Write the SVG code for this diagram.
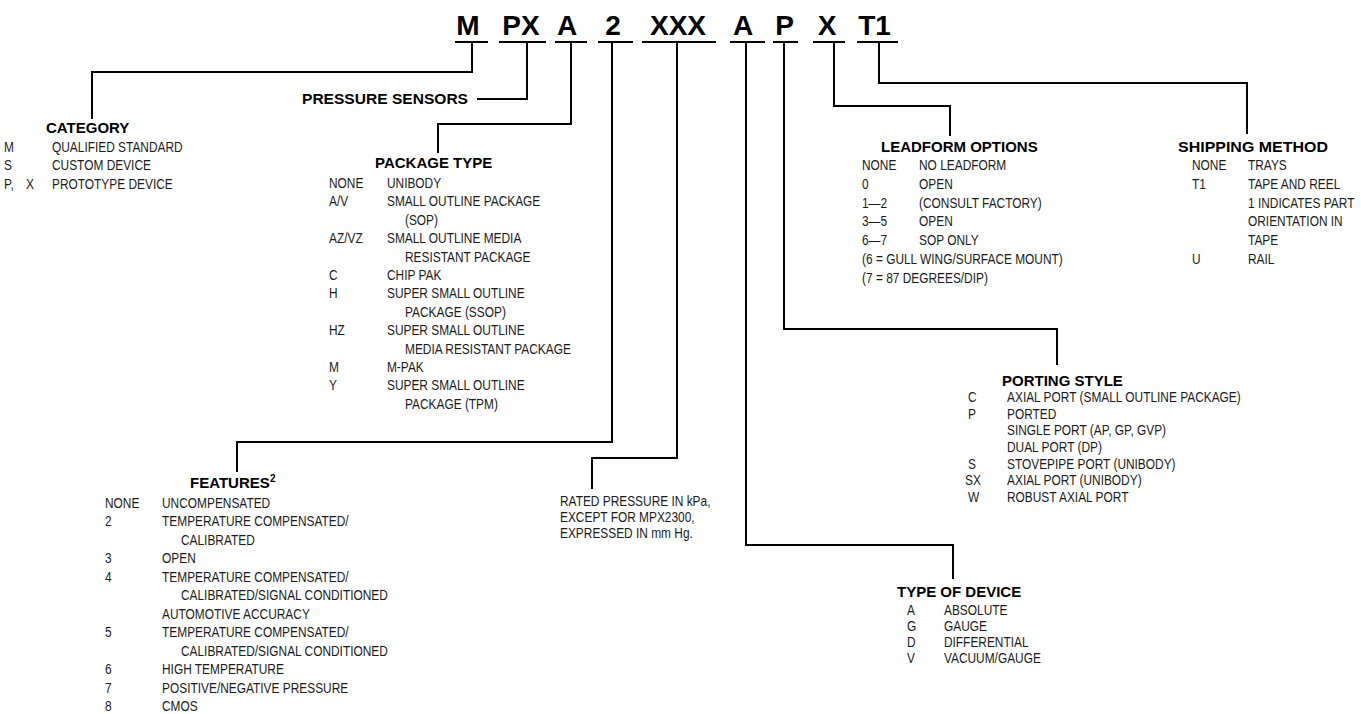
<svg xmlns="http://www.w3.org/2000/svg" width="1361" height="714" viewBox="0 0 1361 714">
<style>
.code{font-family:"Liberation Sans",Arial,sans-serif;font-weight:bold;font-size:28px;fill:#000;text-anchor:middle}
.h{font-family:"Liberation Sans",Arial,sans-serif;font-weight:bold;font-size:15px;fill:#000}
.b{font-family:"Liberation Sans",Arial,sans-serif;font-size:14px;fill:#1a1a1a}
.sup{font-family:"Liberation Sans",Arial,sans-serif;font-weight:bold;font-size:10px;fill:#000}
.ln{fill:none;stroke:#000;stroke-width:2}
</style>
<rect width="1361" height="714" fill="#fff"/>
<g id="part-number">
<text class="code" x="468" y="35">M</text>
<text class="code" x="521" y="35">PX</text>
<text class="code" x="567" y="35">A</text>
<text class="code" x="613" y="35">2</text>
<text class="code" x="678" y="35">XXX</text>
<text class="code" x="743" y="35">A</text>
<text class="code" x="784.5" y="35">P</text>
<text class="code" x="827" y="35">X</text>
<text class="code" x="874.5" y="35">T1</text>
<path class="ln" d="M455 42H488M499 42H546M555 42H587M598 42H633M642 42H716M730 42H765M773 42H798M813 42H845M857 42H898"/>
</g>
<g id="connectors">
<path class="ln" d="M472 42V72H92V119"/>
<path class="ln" d="M527 42V99H477"/>
<path class="ln" d="M571 42V124H438V153"/>
<path class="ln" d="M612 42V442H237V472"/>
<path class="ln" d="M677 42V458H592V489"/>
<path class="ln" d="M746 42V545H953V579"/>
<path class="ln" d="M784 42V329H1057V365"/>
<path class="ln" d="M834 42V106H950V136"/>
<path class="ln" d="M879 42V83H1247V134"/>
</g>
<g id="category">
<text class="h" x="46" y="133">CATEGORY</text>
<g transform="translate(4,0) scale(0.85,1)">
<text class="b" x="0" y="152">M</text><text class="b" x="56.5" y="152">QUALIFIED STANDARD</text>
<text class="b" x="0" y="170.5">S</text><text class="b" x="56.5" y="170.5">CUSTOM DEVICE</text>
<text class="b" x="0" y="189">P, <tspan x="26">X</tspan></text><text class="b" x="56.5" y="189">PROTOTYPE DEVICE</text>
</g>
</g>
<g id="pressure-sensors">
<text class="h" x="468" y="104" text-anchor="end" textLength="166" lengthAdjust="spacingAndGlyphs">PRESSURE SENSORS</text>
</g>
<g id="package-type">
<text class="h" x="375" y="168">PACKAGE TYPE</text>
<g transform="translate(329,0) scale(0.85,1)">
<text class="b" x="0" y="188">NONE</text><text class="b" x="68.2" y="188">UNIBODY</text>
<text class="b" x="0" y="206.4">A/V</text><text class="b" x="68.2" y="206.4">SMALL OUTLINE PACKAGE</text>
<text class="b" x="89.4" y="224.8">(SOP)</text>
<text class="b" x="0" y="243.2">AZ/VZ</text><text class="b" x="68.2" y="243.2">SMALL OUTLINE MEDIA</text>
<text class="b" x="89.4" y="261.6">RESISTANT PACKAGE</text>
<text class="b" x="0" y="280">C</text><text class="b" x="68.2" y="280">CHIP PAK</text>
<text class="b" x="0" y="298.4">H</text><text class="b" x="68.2" y="298.4">SUPER SMALL OUTLINE</text>
<text class="b" x="89.4" y="316.8">PACKAGE (SSOP)</text>
<text class="b" x="0" y="335.2">HZ</text><text class="b" x="68.2" y="335.2">SUPER SMALL OUTLINE</text>
<text class="b" x="89.4" y="353.6">MEDIA RESISTANT PACKAGE</text>
<text class="b" x="0" y="372">M</text><text class="b" x="68.2" y="372">M-PAK</text>
<text class="b" x="0" y="390.4">Y</text><text class="b" x="68.2" y="390.4">SUPER SMALL OUTLINE</text>
<text class="b" x="89.4" y="408.8">PACKAGE (TPM)</text>
</g>
</g>
<g id="features">
<text class="h" x="190" y="488">FEATURES</text><text class="sup" x="270" y="482">2</text>
<g transform="translate(105,0) scale(0.85,1)">
<text class="b" x="0" y="508">NONE</text><text class="b" x="67.1" y="508">UNCOMPENSATED</text>
<text class="b" x="0" y="526.5">2</text><text class="b" x="67.1" y="526.5">TEMPERATURE COMPENSATED/</text>
<text class="b" x="89.4" y="545">CALIBRATED</text>
<text class="b" x="0" y="563.5">3</text><text class="b" x="67.1" y="563.5">OPEN</text>
<text class="b" x="0" y="582">4</text><text class="b" x="67.1" y="582">TEMPERATURE COMPENSATED/</text>
<text class="b" x="89.4" y="600.5">CALIBRATED/SIGNAL CONDITIONED</text>
<text class="b" x="67.1" y="619">AUTOMOTIVE ACCURACY</text>
<text class="b" x="0" y="637.5">5</text><text class="b" x="67.1" y="637.5">TEMPERATURE COMPENSATED/</text>
<text class="b" x="89.4" y="656">CALIBRATED/SIGNAL CONDITIONED</text>
<text class="b" x="0" y="674.5">6</text><text class="b" x="67.1" y="674.5">HIGH TEMPERATURE</text>
<text class="b" x="0" y="693">7</text><text class="b" x="67.1" y="693">POSITIVE/NEGATIVE PRESSURE</text>
<text class="b" x="0" y="711">8</text><text class="b" x="67.1" y="711">CMOS</text>
</g>
</g>
<g id="rated-pressure">
<g transform="translate(560,0) scale(0.85,1)">
<text class="b" x="0" y="506">RATED PRESSURE IN kPa,</text>
<text class="b" x="0" y="522">EXCEPT FOR MPX2300,</text>
<text class="b" x="0" y="538">EXPRESSED IN mm Hg.</text>
</g>
</g>
<g id="leadform-options">
<text class="h" x="881" y="152">LEADFORM OPTIONS</text>
<g transform="translate(862,0) scale(0.85,1)">
<text class="b" x="0" y="170">NONE</text><text class="b" x="67.1" y="170">NO LEADFORM</text>
<text class="b" x="0" y="188.8">0</text><text class="b" x="67.1" y="188.8">OPEN</text>
<text class="b" x="0" y="207.6">1—2</text><text class="b" x="67.1" y="207.6">(CONSULT FACTORY)</text>
<text class="b" x="0" y="226.4">3—5</text><text class="b" x="67.1" y="226.4">OPEN</text>
<text class="b" x="0" y="245.2">6—7</text><text class="b" x="67.1" y="245.2">SOP ONLY</text>
<text class="b" x="0" y="264">(6 = GULL WING/SURFACE MOUNT)</text>
<text class="b" x="0" y="282.8">(7 = 87 DEGREES/DIP)</text>
</g>
</g>
<g id="shipping-method">
<text class="h" x="1178" y="152" textLength="150" lengthAdjust="spacingAndGlyphs">SHIPPING METHOD</text>
<g transform="translate(1192,0) scale(0.85,1)">
<text class="b" x="0" y="170">NONE</text><text class="b" x="65.9" y="170">TRAYS</text>
<text class="b" x="0" y="188.8">T1</text><text class="b" x="65.9" y="188.8">TAPE AND REEL</text>
<text class="b" x="65.9" y="207.6">1 INDICATES PART</text>
<text class="b" x="65.9" y="226.4">ORIENTATION IN</text>
<text class="b" x="65.9" y="245.2">TAPE</text>
<text class="b" x="0" y="264">U</text><text class="b" x="65.9" y="264">RAIL</text>
</g>
</g>
<g id="porting-style">
<text class="h" x="1002" y="386">PORTING STYLE</text>
<g transform="translate(968,0) scale(0.85,1)">
<text class="b" x="0" y="402">C</text><text class="b" x="45.9" y="402">AXIAL PORT (SMALL OUTLINE PACKAGE)</text>
<text class="b" x="0" y="418.7">P</text><text class="b" x="45.9" y="418.7">PORTED</text>
<text class="b" x="45.9" y="435.4">SINGLE PORT (AP, GP, GVP)</text>
<text class="b" x="45.9" y="452.1">DUAL PORT (DP)</text>
<text class="b" x="0" y="468.8">S</text><text class="b" x="45.9" y="468.8">STOVEPIPE PORT (UNIBODY)</text>
<text class="b" x="-3.5" y="485.5">SX</text><text class="b" x="45.9" y="485.5">AXIAL PORT (UNIBODY)</text>
<text class="b" x="0" y="502.2">W</text><text class="b" x="45.9" y="502.2">ROBUST AXIAL PORT</text>
</g>
</g>
<g id="type-of-device">
<text class="h" x="897" y="597">TYPE OF DEVICE</text>
<g transform="translate(907,0) scale(0.85,1)">
<text class="b" x="0" y="615">A</text><text class="b" x="43.5" y="615">ABSOLUTE</text>
<text class="b" x="0" y="631">G</text><text class="b" x="43.5" y="631">GAUGE</text>
<text class="b" x="0" y="647">D</text><text class="b" x="43.5" y="647">DIFFERENTIAL</text>
<text class="b" x="0" y="663">V</text><text class="b" x="43.5" y="663">VACUUM/GAUGE</text>
</g>
</g>
</svg>
